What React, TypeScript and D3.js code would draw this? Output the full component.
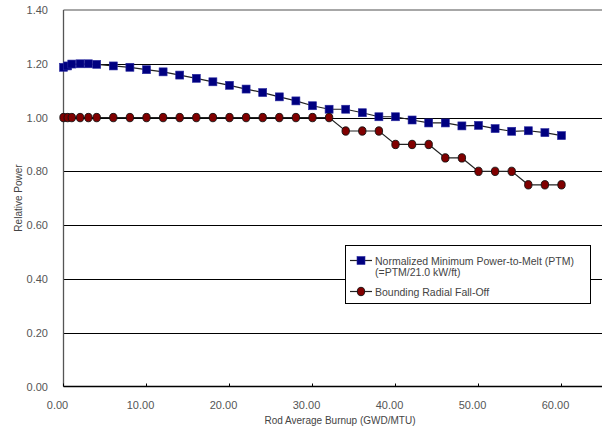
import React from "react";
import * as d3 from "d3";

const burnupPTM = [0, 0.5, 1, 2, 3, 4, 6, 8, 10, 12, 14, 16, 18, 20, 22, 24, 26, 28, 30, 32, 34, 36, 38, 40, 42, 44, 46, 48, 50, 52, 54, 56, 58, 60];
const ptmValues = [1.187, 1.192, 1.199, 1.2, 1.2, 1.198, 1.192, 1.187, 1.178, 1.17, 1.158, 1.146, 1.133, 1.12, 1.106, 1.093, 1.077, 1.062, 1.044, 1.031, 1.031, 1.018, 1.003, 1.003, 0.991, 0.98, 0.98, 0.969, 0.971, 0.959, 0.949, 0.951, 0.944, 0.933];
const burnupRFO = [0, 0.5, 1, 2, 3, 4, 6, 8, 10, 12, 14, 16, 18, 20, 22, 24, 26, 28, 30, 32, 34, 36, 38, 40, 42, 44, 46, 48, 50, 52, 54, 56, 58, 60];
const rfoValues = [1, 1, 1, 1, 1, 1, 1, 1, 1, 1, 1, 1, 1, 1, 1, 1, 1, 1, 1, 1, 0.95, 0.95, 0.95, 0.9, 0.9, 0.9, 0.85, 0.85, 0.8, 0.8, 0.8, 0.75, 0.75, 0.75];
const xTicks = [0, 10, 20, 30, 40, 50, 60];
const yTicks = [0, 0.2, 0.4, 0.6, 0.8, 1.0, 1.2, 1.4];
const legendPTM = ["Normalized Minimum Power-to-Melt (PTM)", "(=PTM/21.0 kW/ft)"];
const legendRFO = "Bounding Radial Fall-Off";
const xTitle = "Rod Average Burnup (GWD/MTU)";
const yTitle = "Relative Power";

const W = 602;
const H = 427;
const FONT = "'Liberation Sans', Arial, sans-serif";

export default function App() {
  const x = d3.scaleLinear().domain([0, 70]).range([63.5, 644.5]);
  const y = d3.scaleLinear().domain([0, 1.4]).range([386.5, 10]);
  const line = d3
    .line<[number, number]>()
    .x((d) => x(d[0]))
    .y((d) => y(d[1]));
  const ptm: [number, number][] = burnupPTM.map((b, i) => [b, ptmValues[i]]);
  const rfo: [number, number][] = burnupRFO.map((b, i) => [b, rfoValues[i]]);

  return (
    <svg
      width={W}
      height={H}
      style={{ position: "fixed", left: 0, top: 0, background: "#fff" }}
      fontFamily={FONT}
    >
      <rect x={0} y={0} width={W} height={H} fill="#fff" />
      {/* gridlines */}
      {yTicks.filter((t) => t > 0 && t < 1.4).map((t) => (
        <line key={t} x1={x(0)} x2={W} y1={Math.round(y(t)) + 0.5} y2={Math.round(y(t)) + 0.5} stroke="#000" strokeWidth={1} />
      ))}
      <line x1={x(0)} x2={W} y1={10} y2={10} stroke="#8a8a8a" strokeWidth={1.5} />
      {/* axes */}
      <line x1={x(0)} x2={x(0)} y1={10} y2={y(0)} stroke="#555" strokeWidth={1.3} />
      <line x1={x(0)} x2={W} y1={y(0)} y2={y(0)} stroke="#000" strokeWidth={1.5} />
      {xTicks.map((t) => (
        <line key={t} x1={x(t)} x2={x(t)} y1={y(0)} y2={y(0) - 3} stroke="#000" strokeWidth={1} />
      ))}
      {/* tick labels */}
      {yTicks.map((t) => (
        <text key={t} x={48} y={y(t) + 4} textAnchor="end" fontSize={11} fill="#555">
          {t.toFixed(2)}
        </text>
      ))}
      {xTicks.map((t) => (
        <text key={t} x={x(t) - 6} y={409} textAnchor="middle" fontSize={11} fill="#555">
          {t.toFixed(2)}
        </text>
      ))}
      <text x={340} y={424} textAnchor="middle" fontSize={10} fill="#444">
        {xTitle}
      </text>
      <text transform={`translate(22,198) rotate(-90)`} textAnchor="middle" fontSize={10} fill="#444">
        {yTitle}
      </text>
      {/* series */}
      <path d={line(ptm) || ""} fill="none" stroke="#222" strokeWidth={1.2} />
      <path d={line(rfo) || ""} fill="none" stroke="#222" strokeWidth={1.2} />
      {ptm.map((d, i) => (
        <rect key={i} x={x(d[0]) - 4} y={y(d[1]) - 4} width={8} height={8} fill="#000080" stroke="#2b2ba0" strokeWidth={0.6} />
      ))}
      {rfo.map((d, i) => (
        <ellipse key={i} cx={x(d[0])} cy={y(d[1])} rx={3.7} ry={4.2} fill="#800000" stroke="#111" strokeWidth={0.9} />
      ))}
      {/* legend */}
      <rect x={345.5} y={245.5} width={245} height={58} fill="#fff" stroke="#000" strokeWidth={1} />
      <line x1={350} x2={372} y1={260.5} y2={260.5} stroke="#222" strokeWidth={1.2} />
      <rect x={357} y={256.5} width={8} height={8} fill="#000080" stroke="#2b2ba0" strokeWidth={0.6} />
      <text x={375} y={264.5} fontSize={10.5} fill="#444">{legendPTM[0]}</text>
      <text x={375} y={275.5} fontSize={10.5} fill="#444">{legendPTM[1]}</text>
      <line x1={350} x2={372} y1={291.5} y2={291.5} stroke="#222" strokeWidth={1.2} />
      <ellipse cx={361} cy={291.5} rx={3.7} ry={4.2} fill="#800000" stroke="#111" strokeWidth={0.9} />
      <text x={375} y={295.5} fontSize={10.5} fill="#444">{legendRFO}</text>
    </svg>
  );
}
